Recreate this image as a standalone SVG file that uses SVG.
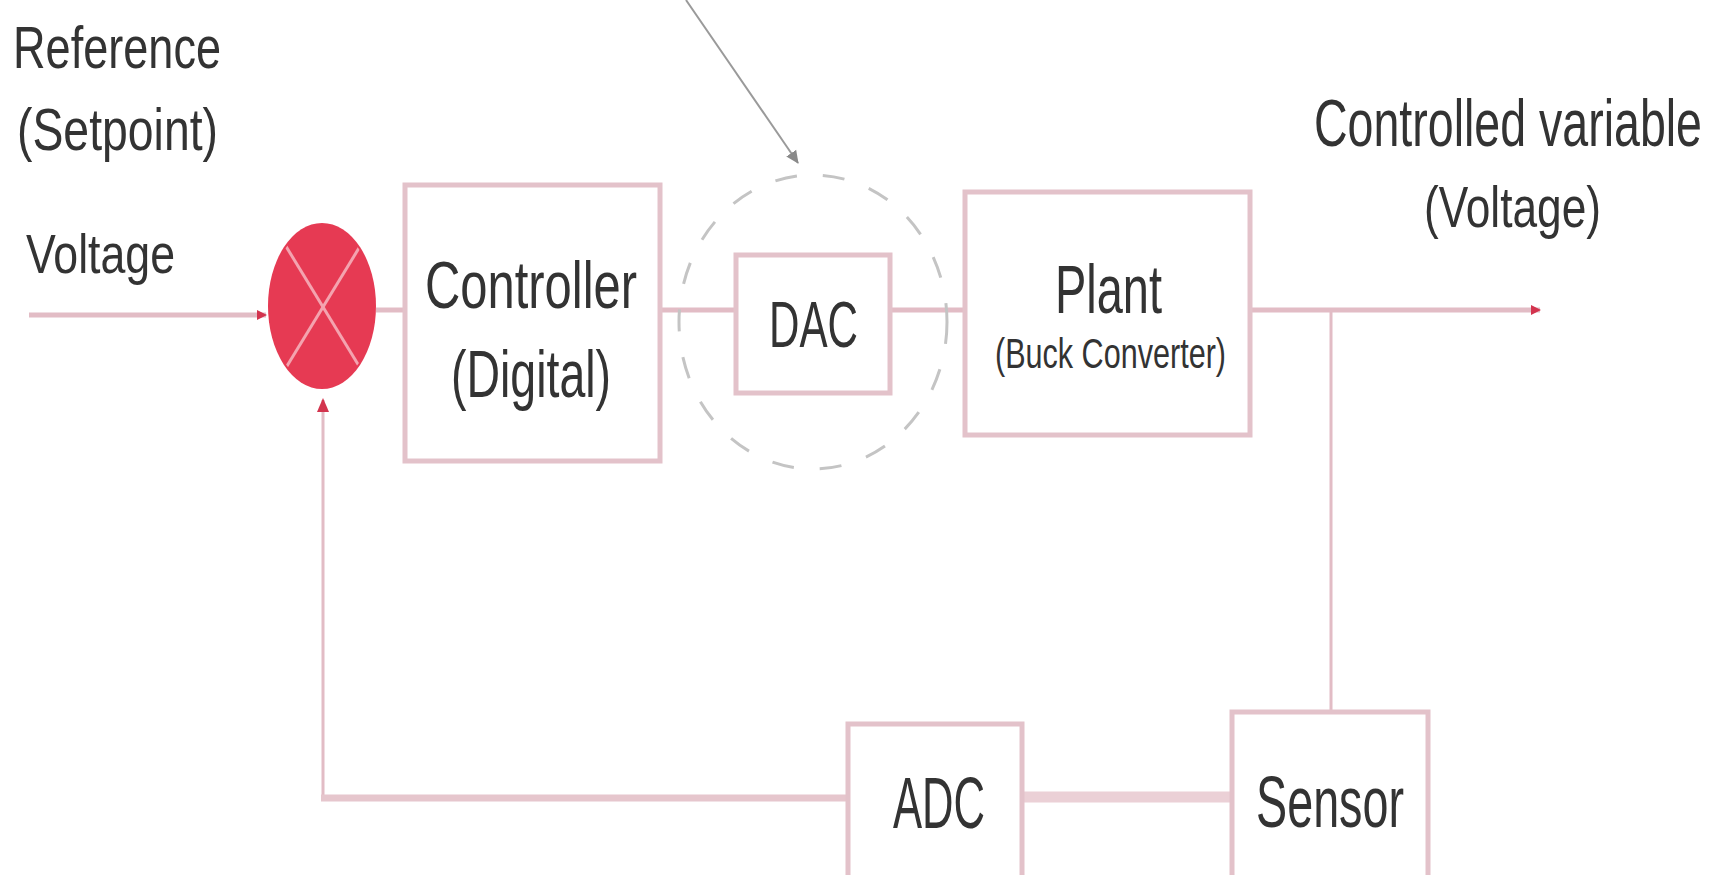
<svg xmlns="http://www.w3.org/2000/svg" width="1732" height="875" viewBox="0 0 1732 875">
<defs>
<style>
.t{font-family:"Liberation Sans",Arial,sans-serif;fill:#333;}
.box{fill:#fff;stroke:#e3c2ca;stroke-width:5;}
.ln{fill:none;stroke:#e2bcc5;stroke-width:5;}
</style>
<marker id="ar" markerWidth="10" markerHeight="10" refX="9" refY="5" orient="auto" markerUnits="userSpaceOnUse">
<path d="M0,0 L10,5 L0,10 Z" fill="#d3344e"/>
</marker>
<marker id="ag" markerWidth="14" markerHeight="14" refX="12" refY="7" orient="auto" markerUnits="userSpaceOnUse">
<path d="M0,1 L13,7 L0,13 Z" fill="#8a8a8a"/>
</marker>
<clipPath id="sc"><ellipse cx="322" cy="306" rx="52" ry="81"/></clipPath>
</defs>
<rect width="1732" height="875" fill="#fff"/>

<g id="connectors">
<line class="ln" x1="29" y1="315" x2="266" y2="315" marker-end="url(#ar)"/>
<line class="ln" x1="376" y1="310" x2="405" y2="310"/>
<line class="ln" x1="660" y1="310" x2="736" y2="310"/>
<line class="ln" x1="890" y1="310" x2="965" y2="310"/>
<line class="ln" x1="1250" y1="310" x2="1540" y2="310" marker-end="url(#ar)"/>
<line class="ln" x1="1331" y1="310" x2="1331" y2="712" style="stroke-width:3"/>
<line class="ln" x1="1022" y1="797" x2="1232" y2="797" style="stroke-width:11;stroke:#ebd0d6"/>
<polyline class="ln" points="323,797 323,400" style="stroke-width:3"/>
<line class="ln" x1="321" y1="798" x2="847" y2="798" style="stroke-width:7;stroke:#e6c6cd"/>
<path d="M317,412 L323,398 L329,412 Z" fill="#d3344e"/>
<line x1="686" y1="0" x2="798" y2="163" stroke="#9a9a9a" stroke-width="2" marker-end="url(#ag)"/>
</g>

<g id="sum">
<ellipse cx="322" cy="306" rx="54" ry="83" fill="#e63a53"/>
<g clip-path="url(#sc)" stroke="#f4a3af" stroke-width="3">
<line x1="276" y1="230" x2="370" y2="384"/>
<line x1="370" y1="230" x2="276" y2="384"/>
</g>
</g>

<g id="labels-in">
<text class="t" x="13" y="68" font-size="60" textLength="208" lengthAdjust="spacingAndGlyphs">Reference</text>
<text class="t" x="17" y="150" font-size="60" textLength="201" lengthAdjust="spacingAndGlyphs">(Setpoint)</text>
<text class="t" x="26" y="273" font-size="56" textLength="149" lengthAdjust="spacingAndGlyphs">Voltage</text>
</g>

<g id="controller">
<rect class="box" x="405" y="185" width="255" height="276"/>
<text class="t" x="425" y="308" font-size="66" textLength="212" lengthAdjust="spacingAndGlyphs">Controller</text>
<text class="t" x="451" y="397" font-size="66" textLength="160" lengthAdjust="spacingAndGlyphs">(Digital)</text>
</g>

<g id="dac">
<ellipse cx="813" cy="322" rx="134" ry="147" fill="none" stroke="#c4c4c4" stroke-width="3" stroke-dasharray="22 26"/>
<rect class="box" x="736" y="255" width="154" height="138"/>
<text class="t" x="769" y="347" font-size="65" textLength="89" lengthAdjust="spacingAndGlyphs">DAC</text>
</g>

<g id="plant">
<rect class="box" x="965" y="192" width="285" height="243"/>
<text class="t" x="1055" y="313" font-size="68" textLength="107" lengthAdjust="spacingAndGlyphs">Plant</text>
<text class="t" x="995" y="368" font-size="42" textLength="231" lengthAdjust="spacingAndGlyphs">(Buck Converter)</text>
</g>

<g id="output">
<text class="t" x="1314" y="146" font-size="66" textLength="388" lengthAdjust="spacingAndGlyphs">Controlled variable</text>
<text class="t" x="1424" y="227" font-size="58" textLength="177" lengthAdjust="spacingAndGlyphs">(Voltage)</text>
</g>

<g id="adc">
<rect class="box" x="848" y="724" width="174" height="160"/>
<text class="t" x="893" y="828" font-size="72" textLength="92" lengthAdjust="spacingAndGlyphs">ADC</text>
</g>

<g id="sensor">
<rect class="box" x="1232" y="712" width="196" height="172"/>
<text class="t" x="1256" y="827" font-size="72" textLength="148" lengthAdjust="spacingAndGlyphs">Sensor</text>
</g>
</svg>
